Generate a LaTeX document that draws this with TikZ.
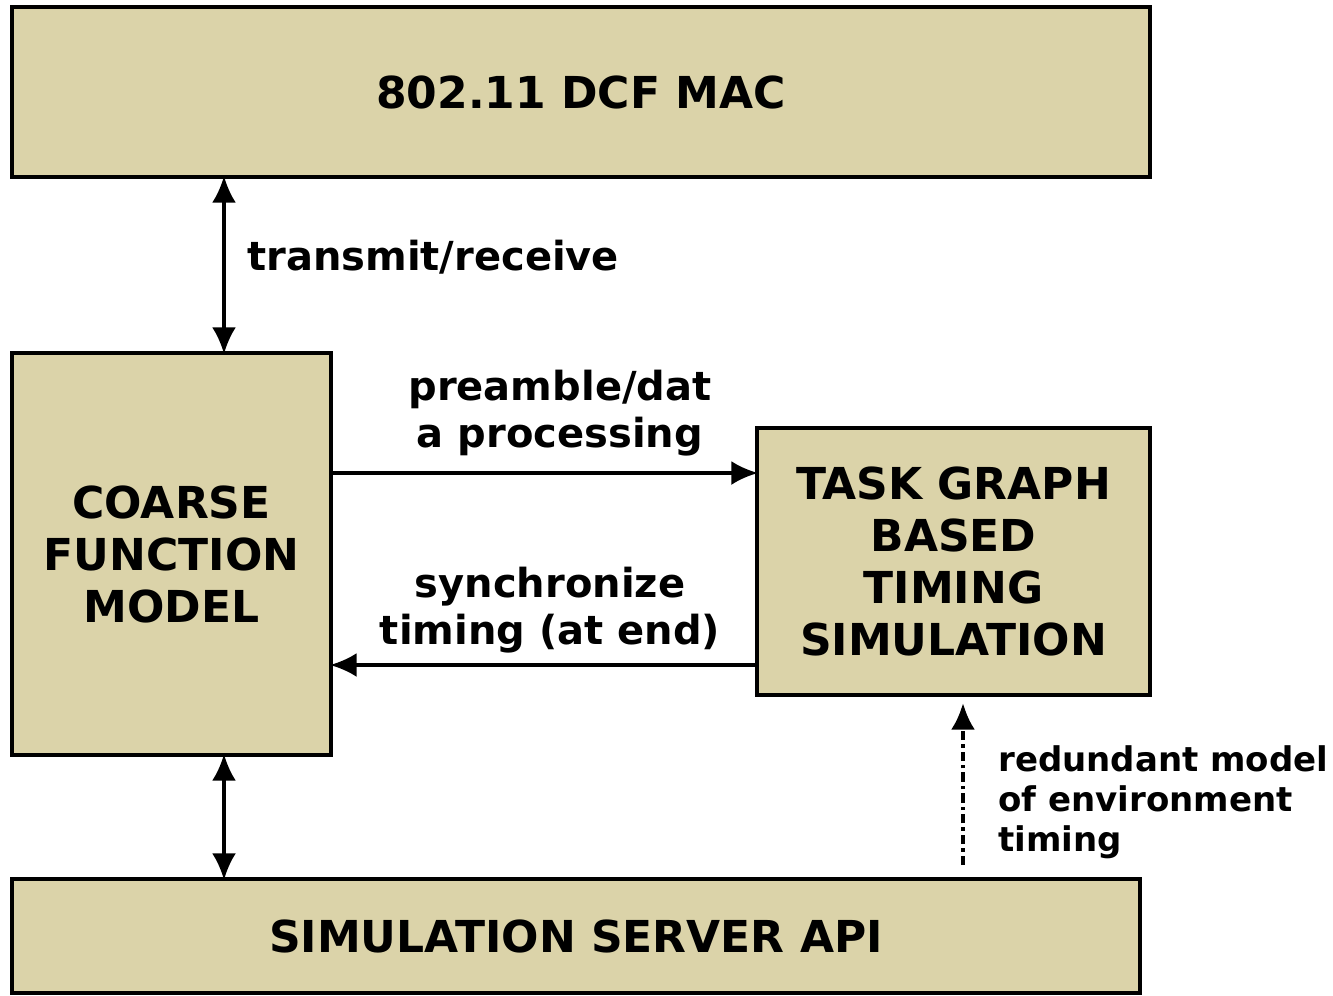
\documentclass[tikz,border=0pt]{standalone}
\usepackage{fontspec}
\setmainfont{DejaVu Sans}
\usetikzlibrary{arrows.meta,calc}
\definecolor{boxfill}{HTML}{DBD3A9}
\begin{document}
\begin{tikzpicture}[x=0.75pt,y=-0.75pt,
  blk/.style={draw=black,line width=3pt,fill=boxfill,anchor=north west,inner sep=0pt,outer sep=0pt},
  btxt/.style={font=\fontsize{33}{39}\selectfont\bfseries,align=center},
  lbl/.style={inner sep=0pt,font=\fontsize{30}{35}\selectfont\bfseries,align=center},
  sml/.style={inner sep=0pt,font=\fontsize{25.5}{30}\selectfont\bfseries,align=left},
  conn/.style={line width=2.6pt,-{Latex[length=20pt,width=18pt]}},
  dconn/.style={line width=2.6pt,{Latex[length=20pt,width=18pt]}-{Latex[length=20pt,width=18pt]}},
  dashconn/.style={line width=3pt,-{Latex[length=20pt,width=18pt]},
    dash pattern=on 7pt off 3pt on 2.6pt off 3pt}]
\useasboundingbox[fill=white] (0,0) rectangle (1333,995);
\node[blk,minimum width=853.5pt,minimum height=127.5pt] (mac) at (12,7) {};
\node[btxt] at (mac.center) (mact) {802.11 DCF MAC};
\node[blk,minimum width=239.25pt,minimum height=301.5pt] (cfm) at (12,353) {};
\node[btxt] at (cfm.center) (cfmt) {COARSE\\FUNCTION\\MODEL};
\node[blk,minimum width=294.75pt,minimum height=200.25pt] (tg) at (757,428) {};
\node[btxt] at (tg.center) (tgt) {TASK GRAPH\\BASED\\TIMING\\SIMULATION};
\node[blk,minimum width=846pt,minimum height=85.5pt] (api) at (12,879) {};
\node[btxt] at (api.center) (apit) {SIMULATION SERVER API};

\coordinate (xl) at (224,0);
\coordinate (xd) at (963,0);
\coordinate (yr) at (0,473);
\coordinate (yl) at (0,665);

\draw[dconn] ($(mac.south -| xl)+(0,-1)$) -- ($(cfm.north -| xl)+(0,1)$);
\draw[dconn] ($(cfm.south -| xl)+(0,-1)$) -- ($(api.north -| xl)+(0,1)$);
\draw[conn] ($(cfm.east |- yr)+(-1,0)$) -- ($(tg.west |- yr)+(1,0)$);
\draw[conn] ($(tg.west |- yl)+(1,0)$) -- ($(cfm.east |- yl)+(-1,0)$);
\draw[dashconn] ($(api.north -| xd)+(0,-14)$) -- ($(tg.south -| xd)+(0,8)$);

\node[lbl,anchor=west] (l1) at (247,257) {transmit/receive};
\node[lbl] (l2) at (560,413) {preamble/dat\\a processing};
\node[lbl] (l3) at (550,610) {synchronize\\timing (at end)};
\node[sml,anchor=west] (l4) at (998,802) {redundant model\\of environment\\timing};
\end{tikzpicture}
\end{document}
